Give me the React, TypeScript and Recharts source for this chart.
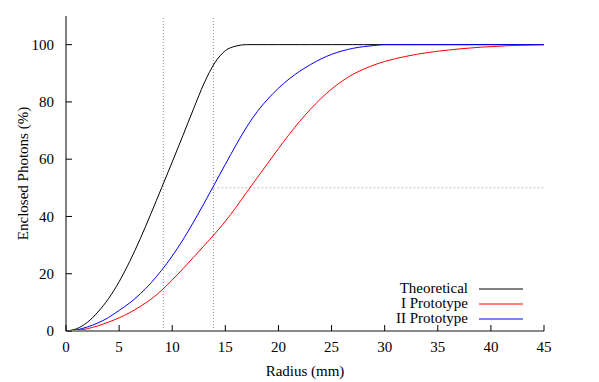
import React from 'react';
import { LineChart, Line, XAxis, YAxis, ReferenceLine } from 'recharts';

const radius = [
  0, 1, 2, 3, 4, 5, 6, 7, 8, 9, 10, 11, 12, 13, 14, 15, 16, 17, 18, 19, 20, 21, 22,
  23, 24, 25, 26, 27, 28, 29, 30, 31, 32, 33, 34, 35, 36, 37, 38, 39, 40, 41, 42, 43, 44, 45,
];
const theoretical = [
  0, 0.8, 3, 6.6, 11.3, 17.2, 24.3, 32.3, 41, 50, 59, 68.2, 77.5, 86.5, 93.6, 97.9, 99.5, 100, 100, 100,
  100, 100, 100, 100, 100, 100, 100, 100, 100, 100, 100, 100, 100, 100, 100, 100, 100, 100, 100, 100,
  100, 100, 100, 100, 100, 100,
];
const prototypeI = [
  0, 0.2, 0.8, 1.8, 3.1, 4.6, 6.4, 8.6, 11.1, 14.2, 17.8, 21.7, 25.7, 29.8, 33.9, 38.3, 43.2, 48.4,
  53.5, 58.6, 63.7, 68.6, 73.2, 77.4, 81.2, 84.5, 87.3, 89.6, 91.4, 92.9, 94.1, 95.1, 95.9, 96.6,
  97.2, 97.7, 98.1, 98.5, 98.8, 99.1, 99.3, 99.5, 99.7, 99.8, 99.9, 100,
];
const prototypeII = [
  0, 0.4, 1.4, 2.8, 4.7, 7.2, 9.8, 13, 16.8, 21.2, 26.2, 31.8, 38, 44.6, 51.4, 58.2, 64.9, 71.2, 76.6,
  81, 84.8, 88, 90.7, 93, 95, 96.6, 97.8, 98.7, 99.3, 99.7, 100, 100, 100, 100, 100, 100, 100, 100,
  100, 100, 100, 100, 100, 100, 100, 100,
];

const xTicks = [0, 5, 10, 15, 20, 25, 30, 35, 40, 45];
const yTicks = [0, 20, 40, 60, 80, 100];
const halfRadiusTheory = 9.16;
const halfRadiusII = 13.87;

const seriesInfo = [
  { key: 'theo', name: 'Theoretical', color: '#000000' },
  { key: 'p1', name: 'I Prototype', color: '#ff0000' },
  { key: 'p2', name: 'II Prototype', color: '#0000ff' },
];

const rows = radius.map((r, i) => ({
  r,
  theo: theoretical[i],
  p1: prototypeI[i],
  p2: prototypeII[i],
}));

const font = '"Liberation Serif", "Times New Roman", serif';

const BottomTick = (props: any) => {
  const { x, y, payload } = props;
  return (
    <g>
      <line x1={x} x2={x} y1={y - 10} y2={y - 16} stroke="#000" />
      <text x={x} y={y} dy="0.71em" textAnchor="middle" fontFamily={font} fontSize={15} fill="#000">
        {payload.value}
      </text>
    </g>
  );
};

const LeftTick = (props: any) => {
  const { x, y, payload } = props;
  return (
    <g>
      <line x1={x + 12} x2={x + 18} y1={y} y2={y} stroke="#000" />
      <text x={x} y={y} dy="0.35em" textAnchor="end" fontFamily={font} fontSize={15} fill="#000">
        {payload.value}
      </text>
    </g>
  );
};

const TopTick = (props: any) => {
  const { x, y } = props;
  return <line x1={x} x2={x} y1={y} y2={y + 6} stroke="#000" />;
};

const RightTick = (props: any) => {
  const { x, y } = props;
  return <line x1={x - 6} x2={x} y1={y} y2={y} stroke="#000" />;
};

const LegendBox = () => (
  <div style={{ position: 'absolute', left: 323, top: 281, width: 200, fontFamily: font, fontSize: 15 }}>
    {seriesInfo.map((s) => (
      <div
        key={s.key}
        style={{ height: 15, display: 'flex', justifyContent: 'flex-end', alignItems: 'center' }}
      >
        <span style={{ lineHeight: '15px' }}>{s.name}</span>
        <svg width={44} height={4} style={{ marginLeft: 11 }}>
          <line x1={0} x2={44} y1={2} y2={2} stroke={s.color} strokeWidth={1} />
        </svg>
      </div>
    ))}
  </div>
);

export default function App() {
  return (
    <div style={{ position: 'absolute', left: 0, top: 0, width: 599, height: 382, background: '#fff', fontFamily: font }}>
      <LineChart
        width={599}
        height={382}
        data={rows}
        margin={{ top: 16, right: 55, left: 0, bottom: 0 }}
        style={{ fontFamily: font }}
      >
        <XAxis
          dataKey="r"
          type="number"
          domain={[0, 45]}
          ticks={xTicks}
          height={51}
          tickSize={0}
          tickMargin={10}
          tickLine={false}
          tick={<BottomTick />}
          axisLine={{ stroke: '#888', strokeWidth: 2 }}
          label={{ value: 'Radius (mm)', position: 'insideBottom', offset: 6, fontFamily: font, fontSize: 15, fill: '#000' }}
        />
        <XAxis
          xAxisId="top"
          orientation="top"
          type="number"
          domain={[0, 45]}
          ticks={xTicks}
          height={0}
          tickSize={0}
          tickMargin={0}
          tickLine={false}
          tick={<TopTick />}
          axisLine={{ stroke: '#000' }}
        />
        <YAxis
          type="number"
          domain={[0, 110]}
          ticks={yTicks}
          width={66}
          tickSize={0}
          tickMargin={12}
          tickLine={false}
          tick={<LeftTick />}
          axisLine={{ stroke: '#000' }}
          label={{ value: 'Enclosed Photons (%)', angle: -90, position: 'center', dx: -10, fontFamily: font, fontSize: 15, fill: '#000' }}
        />
        <YAxis
          yAxisId="right"
          orientation="right"
          type="number"
          domain={[0, 110]}
          ticks={yTicks}
          width={0}
          tickSize={0}
          tickMargin={0}
          tickLine={false}
          tick={<RightTick />}
          axisLine={{ stroke: '#888', strokeWidth: 2 }}
        />
        <ReferenceLine x={halfRadiusTheory} stroke="#999" strokeDasharray="1 2" />
        <ReferenceLine x={halfRadiusII} stroke="#888" strokeDasharray="1 2" />
        <ReferenceLine
          segment={[
            { x: halfRadiusII, y: 50 },
            { x: 45, y: 50 },
          ]}
          stroke="#bbb"
          strokeDasharray="2 2"
        />
        {seriesInfo.map((s) => (
          <Line
            key={s.key}
            type="monotone"
            dataKey={s.key}
            name={s.name}
            stroke={s.color}
            strokeWidth={1}
            dot={false}
            isAnimationActive={false}
          />
        ))}
      </LineChart>
      <LegendBox />
    </div>
  );
}
